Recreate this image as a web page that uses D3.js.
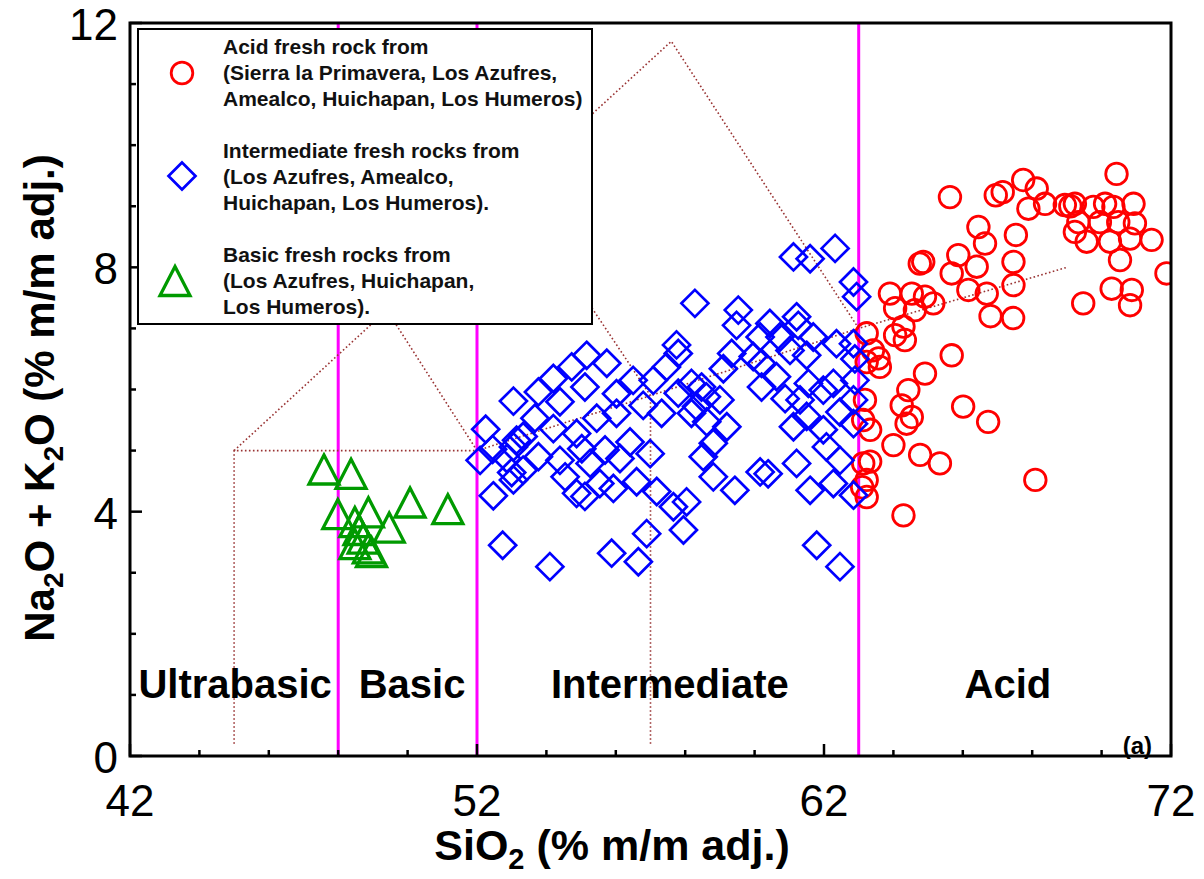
<!DOCTYPE html>
<html>
<head>
<meta charset="utf-8">
<script src="https://cdn.jsdelivr.net/npm/d3@7"></script>
<style>
  body { margin: 0; background: #fff; }
  svg { display: block; }
  text { font-family: "Liberation Sans", Arial, Helvetica, sans-serif; }
</style>
</head>
<body>
<svg id="chart" width="1204" height="879"></svg>
<script>
// SiO2 (wt%) vs total alkali (Na2O + K2O, wt%) for fresh volcanic rocks
const acidRocks = [
  [63.9,7.57],[64.53,7.57],[64.91,7.52],[65.15,7.41],[64.05,7.33],[64.62,7.30],
  [64.29,7.03],[64.05,6.89],[64.33,6.81],[63.23,6.92],[63.57,6.51],[63.61,6.37],
  [63.23,6.45],[65.68,6.56],[64.91,6.26],[64.43,5.99],[64.24,5.74],[64.53,5.55],
  [64.38,5.44],[66.01,5.72],[66.73,5.47],[63.33,5.34],[64.0,5.09],[64.77,4.93],
  [65.34,4.79],[63.13,4.79],[63.33,4.82],[63.23,4.52],[63.23,4.24],[63.1,4.40],
  [64.29,3.94],[63.18,5.83],[63.13,5.50],[63.41,6.64],[68.09,4.52],[65.63,9.15],
  [66.95,9.18],[67.15,9.23],[66.45,8.66],[66.64,8.39],[64.86,8.09],[64.76,8.06],
  [65.87,8.20],[66.4,8.01],[65.68,7.90],[66.16,7.63],[66.69,7.57],[66.8,7.20],
  [67.45,7.17],[67.46,7.71],[67.46,8.09],[67.53,8.53],[67.74,9.43],[68.13,9.29],
  [67.89,8.96],[68.37,9.04],[68.94,9.02],[69.23,9.04],[69.76,8.99],[70.1,9.04],
  [70.34,8.99],[70.92,9.04],[69.33,8.74],[69.23,8.58],[69.57,8.42],[70.24,8.42],
  [69.95,8.74],[70.48,8.74],[70.96,8.72],[70.82,8.47],[71.44,8.45],[70.53,8.12],
  [69.47,7.41],[70.29,7.65],[70.87,7.63],[70.82,7.38],[71.87,7.90],[70.43,9.53],
  [69.1,9.0]
];

const intermediateRocks = [
  [53.05,5.81],[52.25,5.35],[52.09,4.84],[52.45,5.02],[52.86,4.87],[53.0,4.64],
  [52.47,4.26],[52.74,3.45],[53.14,5.17],
  [57.75,6.73],[57.8,6.59],[55.74,6.43],[55.16,6.56],[54.73,6.37],[54.2,6.18],
  [53.77,5.96],[55.11,6.04],[56.5,6.15],[57.08,6.15],[57.46,6.37],[58.18,6.10],
  [57.8,5.94],[58.18,5.61],[58.61,5.88],[54.39,5.80],[56.02,5.93],[56.79,5.74],
  [57.32,5.61],[55.45,5.53],[56.02,5.61],[53.67,5.53],[54.2,5.36],[54.87,5.28],
  [53.33,5.23],[53.05,5.06],[53.77,4.90],[54.39,4.84],[55.02,5.03],[55.69,5.01],
  [56.41,5.14],[56.99,4.95],[56.12,4.87],[55.26,4.79],[53.33,4.68],[53.05,4.52],
  [54.54,4.57],[55.54,4.46],[56.6,4.49],[57.18,4.33],[54.87,4.30],[55.11,4.25],
  [55.93,4.38],[57.66,4.08],[58.04,4.16],[57.95,3.70],[56.89,3.64],[55.88,3.32],
  [56.65,3.18],[54.1,3.10],
  [61.12,8.17],[61.6,8.14],[62.32,8.31],[62.85,7.76],[62.94,7.52],[58.28,7.41],
  [59.53,7.30],[59.48,7.05],[60.44,7.08],[61.21,7.19],[61.26,7.05],[60.16,6.86],
  [60.73,6.86],[61.69,6.86],[62.36,6.75],[62.85,6.75],[59.34,6.59],[59.96,6.54],
  [61.02,6.64],[61.5,6.56],[62.89,6.50],[60.2,6.43],[59.1,6.34],[58.47,6.04],
  [59.0,5.83],[58.33,5.72],[58.62,5.47],[59.2,5.39],[58.81,5.12],[58.52,4.90],
  [58.81,4.57],[59.43,4.35],[60.2,6.04],[60.63,6.21],[60.88,5.85],[61.55,6.10],
  [61.31,5.83],[61.98,5.99],[62.27,6.10],[62.89,6.15],[62.85,5.83],[61.12,5.39],
  [61.5,5.56],[61.98,5.34],[62.46,5.63],[62.85,5.44],[62.07,5.06],[62.46,4.84],
  [61.21,4.79],[60.16,4.65],[60.39,4.62],[61.6,4.35],[62.27,4.46],[62.85,4.27],
  [61.79,3.45],[62.46,3.10]
];

const basicRocks = [
  [47.59,4.69],[48.37,4.62],[47.99,3.96],[48.87,3.99],[48.48,3.83],[49.47,3.74],
  [50.07,4.15],[51.16,4.04],[48.48,3.47],[48.87,3.40],[48.96,3.34],[48.72,3.56],
  [48.6,3.70]
];

// silica classes: ultrabasic < 48 < basic < 52 < intermediate < 63 < acid
const classLimits = [48, 52, 63];
const classNames = ["Ultrabasic", "Basic", "Intermediate", "Acid"];
const classLabelSiO2 = [45.03, 50.13, 57.56, 67.3];

// TAS field boundaries (Le Bas et al.)
const tasBoundaries = [
  [[45,0.2],[45,5],[52,5]],
  [[45,5],[49.4,7.3],[53,9.3],[57.6,11.7],[63,7],[69,8]],
  [[52,5],[49.4,7.3],[45,9.4]],
  [[52,5],[57,5.9],[63,7]],
  [[57,0.2],[57,5.9],[53,9.3]]
];

const xMajorTicks = [42, 52, 62, 72];
const xMinorTicks = [44, 46, 48, 50, 54, 56, 58, 60, 64, 66, 68, 70];
const yMajorTicks = [0, 4, 8, 12];
const yMinorTicks = [1, 2, 3, 5, 6, 7, 9, 10, 11];

const legendEntries = [
  { shape: "circle",   lines: ["Acid fresh rock from", "(Sierra la Primavera, Los Azufres,", "Amealco, Huichapan, Los Humeros)"] },
  { shape: "diamond",  lines: ["Intermediate fresh rocks from", "(Los Azufres, Amealco,", "Huichapan, Los Humeros)."] },
  { shape: "triangle", lines: ["Basic fresh rocks from", "(Los Azufres, Huichapan,", "Los Humeros)."] }
];

const svg = d3.select("#chart");
const plotLeft = 130, plotRight = 1171, plotTop = 23, plotBottom = 756;

const x = d3.scaleLinear().domain([42, 72]).range([plotLeft, plotRight]);
const y = d3.scaleLinear().domain([0, 12]).range([plotBottom, plotTop]);

const RED = "#ff0000", BLUE = "#0000ff", GREEN = "#009a00", MAGENTA = "#ff00ff", DOTS = "#993333";

const diamondPath = "M0,-13.5L13.5,0L0,13.5L-13.5,0Z";
const trianglePath = "M0,-14.5L15,14.5L-15,14.5Z";

svg.append("defs").append("clipPath").attr("id", "plot-clip")
  .append("rect").attr("x", plotLeft).attr("y", plotTop)
  .attr("width", plotRight - plotLeft).attr("height", plotBottom - plotTop);

const plot = svg.append("g").attr("clip-path", "url(#plot-clip)");

// class boundaries
plot.append("g").selectAll("line").data(classLimits).join("line")
  .attr("x1", d => x(d)).attr("x2", d => x(d))
  .attr("y1", y(0)).attr("y2", y(12))
  .attr("stroke", MAGENTA).attr("stroke-width", 3);

// TAS grid, dotted
const line = d3.line().x(d => x(d[0])).y(d => y(d[1]));
plot.append("g").selectAll("path").data(tasBoundaries).join("path")
  .attr("d", line).attr("fill", "none")
  .attr("stroke", DOTS).attr("stroke-width", 1.6)
  .attr("stroke-dasharray", "1.6,2.4");

// acid rocks
plot.append("g").selectAll("circle").data(acidRocks).join("circle")
  .attr("cx", d => x(d[0])).attr("cy", d => y(d[1])).attr("r", 10.8)
  .attr("fill", "none").attr("stroke", RED).attr("stroke-width", 2.8);

// intermediate rocks
plot.append("g").selectAll("path").data(intermediateRocks).join("path")
  .attr("d", diamondPath)
  .attr("transform", d => `translate(${x(d[0])},${y(d[1])})`)
  .attr("fill", "none").attr("stroke", BLUE).attr("stroke-width", 2.7);

// basic rocks
plot.append("g").selectAll("path").data(basicRocks).join("path")
  .attr("d", trianglePath)
  .attr("transform", d => `translate(${x(d[0])},${y(d[1])})`)
  .attr("fill", "none").attr("stroke", GREEN).attr("stroke-width", 3.3)
  .attr("stroke-linejoin", "miter");

// class names
svg.append("g").selectAll("text").data(classNames).join("text")
  .attr("x", (d, i) => x(classLabelSiO2[i])).attr("y", y(0.95))
  .attr("text-anchor", "middle").attr("font-size", 40).attr("font-weight", "bold")
  .attr("fill", "#000").text(d => d);

svg.append("text").attr("x", 1152).attr("y", 754).attr("text-anchor", "end")
  .attr("font-size", 24).attr("font-weight", "bold").text("(a)");

// ticks (inward)
const tickG = svg.append("g").attr("stroke", "#000").attr("stroke-width", 2.5);
tickG.selectAll(".xmaj").data(xMajorTicks).join("line")
  .attr("x1", d => x(d)).attr("x2", d => x(d)).attr("y1", plotBottom).attr("y2", plotBottom - 12);
tickG.selectAll(".xmin").data(xMinorTicks).join("line")
  .attr("x1", d => x(d)).attr("x2", d => x(d)).attr("y1", plotBottom).attr("y2", plotBottom - 6);
tickG.selectAll(".ymaj").data(yMajorTicks).join("line")
  .attr("x1", plotLeft).attr("x2", plotLeft + 12).attr("y1", d => y(d)).attr("y2", d => y(d));
tickG.selectAll(".ymin").data(yMinorTicks).join("line")
  .attr("x1", plotLeft).attr("x2", plotLeft + 6).attr("y1", d => y(d)).attr("y2", d => y(d));

// frame
svg.append("rect").attr("x", plotLeft).attr("y", plotTop)
  .attr("width", plotRight - plotLeft).attr("height", plotBottom - plotTop)
  .attr("fill", "none").attr("stroke", "#000").attr("stroke-width", 3);

// tick labels
svg.append("g").selectAll("text").data(xMajorTicks).join("text")
  .attr("x", d => x(d)).attr("y", plotBottom + 60)
  .attr("text-anchor", "middle").attr("font-size", 44).text(d => d);
svg.append("g").selectAll("text").data(yMajorTicks).join("text")
  .attr("x", plotLeft - 12).attr("y", d => y(d) + 17)
  .attr("text-anchor", "end").attr("font-size", 44).text(d => d);

// axis titles
const xt = svg.append("text").attr("x", 612).attr("y", 860)
  .attr("text-anchor", "middle").attr("font-size", 43).attr("font-weight", "bold");
xt.append("tspan").text("SiO");
xt.append("tspan").attr("font-size", 29).attr("dy", 9).text("2");
xt.append("tspan").attr("dy", -9).text(" (% m/m adj.)");

const yt = svg.append("text").attr("transform", "translate(54,398) rotate(-90)")
  .attr("text-anchor", "middle").attr("font-size", 42).attr("font-weight", "bold");
yt.append("tspan").text("Na");
yt.append("tspan").attr("font-size", 28).attr("dy", 9).text("2");
yt.append("tspan").attr("dy", -9).text("O + K");
yt.append("tspan").attr("font-size", 28).attr("dy", 9).text("2");
yt.append("tspan").attr("dy", -9).text("O (% m/m adj.)");

// legend
const lg = svg.append("g");
lg.append("rect").attr("x", 138).attr("y", 29).attr("width", 454).attr("height", 295)
  .attr("fill", "#fff").attr("stroke", "#000").attr("stroke-width", 2);
const groupTop = [54, 158, 262];
const markerPos = [[182, 73], [182, 176], [175, 281]];
legendEntries.forEach((e, i) => {
  const [mx, my] = markerPos[i];
  if (e.shape === "circle") {
    lg.append("circle").attr("cx", mx).attr("cy", my).attr("r", 10.8)
      .attr("fill", "none").attr("stroke", RED).attr("stroke-width", 2.8);
  } else if (e.shape === "diamond") {
    lg.append("path").attr("d", diamondPath).attr("transform", `translate(${mx},${my})`)
      .attr("fill", "none").attr("stroke", BLUE).attr("stroke-width", 2.7);
  } else {
    lg.append("path").attr("d", trianglePath).attr("transform", `translate(${mx},${my})`)
      .attr("fill", "none").attr("stroke", GREEN).attr("stroke-width", 3.3);
  }
  e.lines.forEach((t, j) => {
    lg.append("text").attr("x", 223).attr("y", groupTop[i] + j * 26)
      .attr("font-size", 21).attr("font-weight", "bold").attr("fill", "#111").text(t);
  });
});
</script>
</body>
</html>
